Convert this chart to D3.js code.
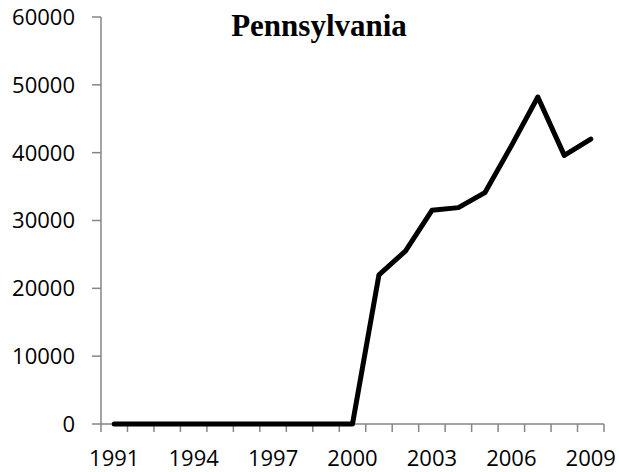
<!DOCTYPE html>
<html>
<head>
  <meta charset="utf-8" />
  <title>Pennsylvania</title>
  <style type="text/css">
    body { margin: 0; background: #fff; }
    .tick-label { font-family: 'Open Sans', sans-serif; font-size: 22px; fill: #000; }
  </style>
</head>
<body>
  <div id="graph"></div>
  <script src="https://cdn.jsdelivr.net/npm/d3@7"></script>
  <script>
// data
var years = [1991, 1992, 1993, 1994, 1995, 1996, 1997, 1998, 1999, 2000,
             2001, 2002, 2003, 2004, 2005, 2006, 2007, 2008, 2009];
var values = [0, 0, 0, 0, 0, 0, 0, 0, 0, 0,
              22000, 25500, 31500, 31900, 34100, 41000, 48200, 39600, 42000];
var yTicks = [0, 10000, 20000, 30000, 40000, 50000, 60000];
var xLabels = [1991, 1994, 1997, 2000, 2003, 2006, 2009];

var width = 619, height = 472;
var margin = {top: 17, right: 15, bottom: 48, left: 101};

var svg = d3.select("#graph").append("svg")
    .attr("width", width)
    .attr("height", height);

var x = d3.scaleBand()
    .domain(years)
    .range([margin.left, width - margin.right])
    .padding(0);

var y = d3.scaleLinear()
    .domain([0, 60000])
    .range([height - margin.bottom, margin.top]);

var axisColor = "#868686";

// y axis
var yAxis = svg.append("g");
yAxis.append("line")
    .attr("x1", margin.left).attr("x2", margin.left)
    .attr("y1", y(0)).attr("y2", y(60000))
    .attr("stroke", axisColor).attr("stroke-width", 1.5);
yAxis.selectAll(".yt").data(yTicks).enter().append("line")
    .attr("x1", margin.left - 9).attr("x2", margin.left)
    .attr("y1", function(d) { return y(d); })
    .attr("y2", function(d) { return y(d); })
    .attr("stroke", axisColor).attr("stroke-width", 1.5);
yAxis.selectAll(".yl").data(yTicks).enter().append("text")
    .attr("class", "tick-label")
    .attr("x", 75)
    .attr("y", function(d) { return y(d); })
    .attr("dy", "0.36em")
    .attr("text-anchor", "end")
    .text(function(d) { return d; });

// x axis, ticks between categories
var xAxis = svg.append("g");
var bounds = years.map(function(d) { return x(d); }).concat([x(years[years.length - 1]) + x.bandwidth()]);
xAxis.append("line")
    .attr("x1", margin.left).attr("x2", width - margin.right)
    .attr("y1", y(0)).attr("y2", y(0))
    .attr("stroke", axisColor).attr("stroke-width", 1.5);
xAxis.selectAll(".xt").data(bounds).enter().append("line")
    .attr("x1", function(d) { return d; })
    .attr("x2", function(d) { return d; })
    .attr("y1", y(0)).attr("y2", y(0) + 8)
    .attr("stroke", axisColor).attr("stroke-width", 1.5);
xAxis.selectAll(".xl").data(xLabels).enter().append("text")
    .attr("class", "tick-label")
    .attr("x", function(d) { return x(d) + x.bandwidth() / 2; })
    .attr("y", 466)
    .attr("text-anchor", "middle")
    .text(function(d) { return d; });

// the line
var line = d3.line()
    .x(function(d, i) { return x(years[i]) + x.bandwidth() / 2; })
    .y(function(d) { return y(d); });

svg.append("path")
    .datum(values)
    .attr("d", line)
    .attr("fill", "none")
    .attr("stroke", "#000")
    .attr("stroke-width", 5)
    .attr("stroke-linejoin", "round")
    .attr("stroke-linecap", "round");

// title
svg.append("text")
    .attr("x", 319)
    .attr("y", 36)
    .attr("text-anchor", "middle")
    .style("font-family", "'Liberation Serif', 'Times New Roman', serif")
    .style("font-weight", "bold")
    .style("font-size", "31px")
    .text("Pennsylvania");
</script>
</body>
</html>
